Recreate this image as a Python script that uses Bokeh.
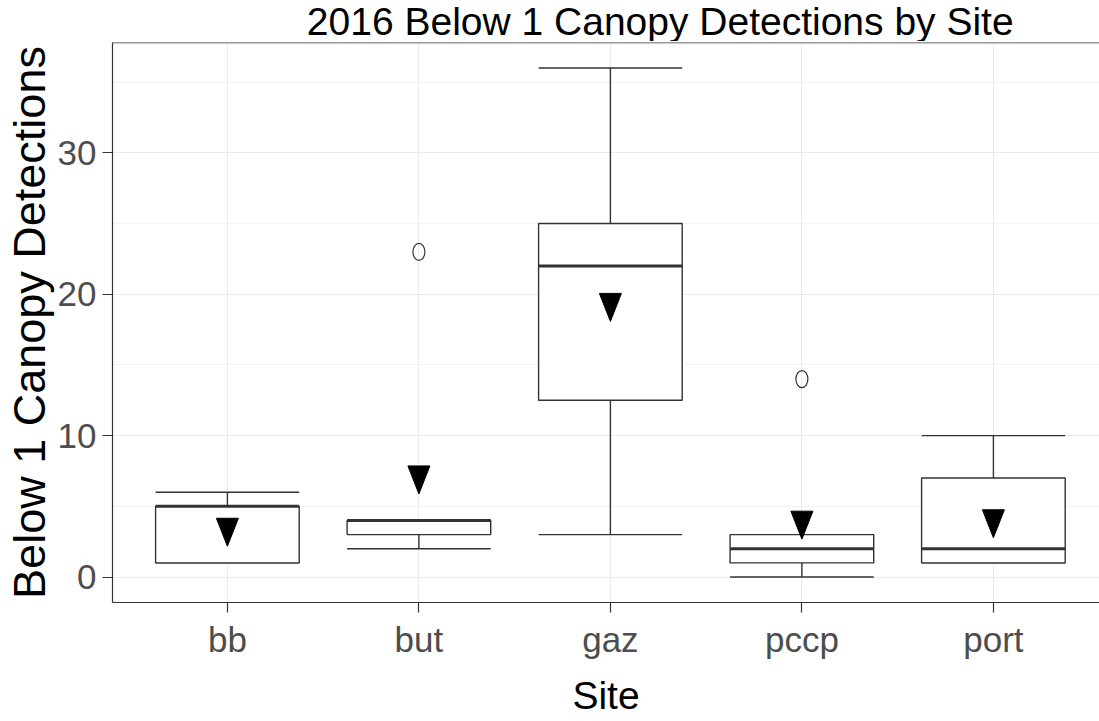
import numpy as np
from bokeh.plotting import figure
from bokeh.layouts import column
from bokeh.models import Range1d, FixedTicker, SingleIntervalTicker, Span
from bokeh.core.properties import value
from bokeh.embed import file_html
from bokeh.resources import INLINE

# Five-number summaries of below-canopy detections per site
sites = ["bb", "but", "gaz", "pccp", "port"]
whisker_low = [1, 2, 3, 0, 1]
q1 = [1, 3, 12.5, 1, 1]
median = [5, 4, 22, 2, 2]
q3 = [5, 4, 25, 3, 7]
whisker_high = [6, 4, 36, 3, 10]
means = [3.5, 7.2, 19.4, 4.0, 4.1]

# Points beyond the whiskers
outlier_site = ["but", "pccp"]
outlier_value = [23, 14]

title_text = "2016 Below 1 Canopy Detections by Site"

# Geometry
W = 1099
HEAD_H = 41
MAIN_H = 680
LEFT, TOP, BOTTOM = 112, 1, 119
FRAME_W = W - LEFT
FRAME_H = MAIN_H - TOP - BOTTOM
X_START, X_END = 0.4, 0.4 + FRAME_W / 191.5
Y_START, Y_END = -1.8, 37.8
BOX_W = 0.75

FONT = "Liberation Sans"
DARK = "#333333"

pos = np.arange(1, len(sites) + 1)
site_pos = {s: i + 1 for i, s in enumerate(sites)}

p = figure(width=W, height=MAIN_H, x_range=Range1d(X_START, X_END),
           y_range=Range1d(Y_START, Y_END), output_backend="svg",
           toolbar_location=None, min_border_left=LEFT, min_border_right=0,
           min_border_top=TOP, min_border_bottom=BOTTOM)
p.background_fill_color = "white"
p.border_fill_color = "white"
p.outline_line_color = None

# Grid
p.xgrid.grid_line_color = "#EBEBEB"
p.xgrid.grid_line_width = 1.1
p.ygrid.grid_line_color = "#EBEBEB"
p.ygrid.grid_line_width = 1.1
p.ygrid.minor_grid_line_color = "#F0F0F0"
p.ygrid.minor_grid_line_width = 0.8

# Axes
p.xaxis.ticker = FixedTicker(ticks=list(pos))
p.xaxis.major_label_overrides = {int(i): s for i, s in zip(pos, sites)}
p.yaxis.ticker = SingleIntervalTicker(interval=10, num_minor_ticks=2)
for ax in (p.xaxis, p.yaxis):
    ax.axis_line_color = DARK
    ax.axis_line_width = 1.2
    ax.major_tick_line_color = DARK
    ax.major_tick_line_width = 1.2
    ax.major_tick_in = 0
    ax.major_tick_out = 10
    ax.minor_tick_line_color = None
    ax.major_label_text_font = FONT
    ax.major_label_text_font_size = "35px"
    ax.major_label_text_color = "#4D4D4D"
    ax.axis_label_text_font = FONT
    ax.axis_label_text_font_style = "normal"
    ax.axis_label_text_color = "black"
p.yaxis.major_label_standoff = 6
p.xaxis.major_label_standoff = 7
p.xaxis.axis_label = "Site"
p.xaxis.axis_label_text_font_size = "39px"
p.xaxis.axis_label_standoff = 12
p.yaxis.axis_label = "Below 1 Canopy Detections"
p.yaxis.axis_label_text_font_size = "45px"
p.yaxis.axis_label_standoff = 0

# Top panel border
p.add_layout(Span(location=Y_END, dimension="width", line_color=DARK, line_width=1.5))

# Whiskers and caps
p.segment(x0=pos, x1=pos, y0=q3, y1=whisker_high, line_color=DARK, line_width=1.4)
p.segment(x0=pos, x1=pos, y0=q1, y1=whisker_low, line_color=DARK, line_width=1.4)
p.segment(x0=pos - BOX_W / 2, x1=pos + BOX_W / 2, y0=whisker_high, y1=whisker_high,
          line_color=DARK, line_width=1.4)
p.segment(x0=pos - BOX_W / 2, x1=pos + BOX_W / 2, y0=whisker_low, y1=whisker_low,
          line_color=DARK, line_width=1.4)

# Boxes and medians
p.vbar(x=pos, width=BOX_W, bottom=q1, top=q3, fill_color="white",
       line_color=DARK, line_width=1.4)
p.segment(x0=pos - BOX_W / 2, x1=pos + BOX_W / 2, y0=median, y1=median,
          line_color=DARK, line_width=3)

# Outliers
p.ellipse(x=[site_pos[s] for s in outlier_site], y=outlier_value, width=12, height=17,
          width_units="screen", height_units="screen", fill_color=None,
          line_color=DARK, line_width=1.2)

# Mean markers: downward triangles sized in pixels
px_x = FRAME_W / (X_END - X_START)
px_y = FRAME_H / (Y_END - Y_START)
half_w, up, down = 11 / px_x, 9.3 / px_y, 18.7 / px_y
tri_xs = [[x - half_w, x + half_w, x] for x in pos]
tri_ys = [[m + up, m + up, m - down] for m in means]
p.patches(xs=tri_xs, ys=tri_ys, fill_color="black", line_color="black", line_width=1)

# Title strip above the panel (no axes, so its frame covers the whole strip)
head = figure(width=W, height=HEAD_H, x_range=Range1d(0, W), y_range=Range1d(0, HEAD_H),
              x_axis_type=None, y_axis_type=None, output_backend="svg",
              toolbar_location=None, min_border=0)
head.grid.visible = False
head.outline_line_color = None
head.background_fill_color = "white"
head.border_fill_color = "white"
panel_centre = LEFT + ((X_START + 5.6) / 2 - X_START) * px_x
head.text(x=[panel_centre], y=[HEAD_H / 2], text=[title_text],
          text_font=value(FONT), text_font_size="39px", text_color="black",
          text_align="center", text_baseline="middle")

layout = column(head, p, spacing=0)
open("out.html", "w").write(file_html(layout, INLINE))
